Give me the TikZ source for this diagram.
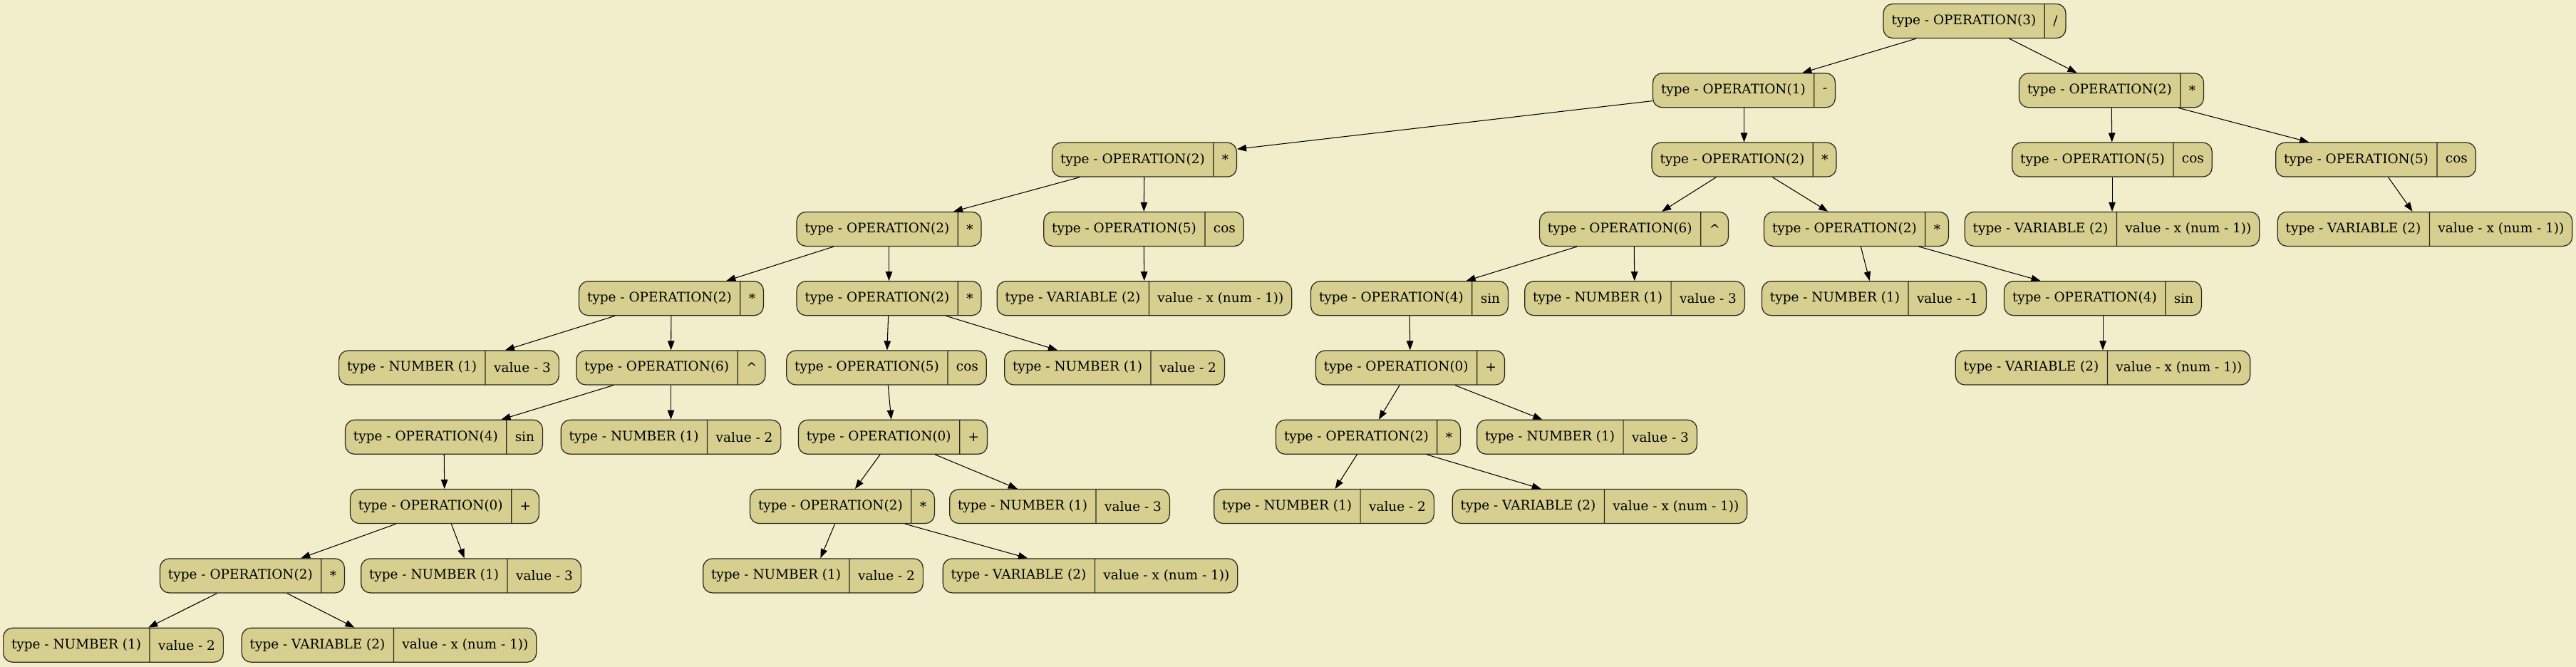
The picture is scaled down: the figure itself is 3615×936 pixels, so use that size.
\documentclass[tikz,border=0pt]{standalone}
\usepackage{fontspec}
\setmainfont{DejaVu Serif}
\usetikzlibrary{arrows.meta,shapes.multipart}
\definecolor{bgcol}{RGB}{242,238,203}
\definecolor{reccol}{RGB}{214,207,143}
\definecolor{recline}{RGB}{40,40,30}
\begin{document}
\begin{tikzpicture}[->,>={Triangle[length=7.4pt,width=5.4pt]},x=0.02cm,y=-0.02cm,
		semithick]
		\tikzstyle{record}=[rectangle split,rectangle split horizontal,rectangle split parts=2,
		draw=recline,fill=reccol,rounded corners=0.26cm,line width=0.7pt,text=black,
		inner xsep=6.5pt,inner ysep=0pt,minimum height=0.96cm,
		font=\fontsize{10.5}{12}\selectfont]
		
		\fill[bgcol] (0,0) rectangle (3615,936);
		\useasboundingbox (0,0) rectangle (3615,936);
		
		% level 0 - 2
		\node[record] (root) at (2771,29.5)    {type - OPERATION(3)\nodepart{two}/};
		\node[record] (A)    at (2447.5,126.8) {type - OPERATION(1)\nodepart{two}-};
		\node[record] (B)    at (2963,126.8)   {type - OPERATION(2)\nodepart{two}*};
		\node[record] (C)    at (1606,224.1)   {type - OPERATION(2)\nodepart{two}*};
		\node[record] (D)    at (2447.5,224.1) {type - OPERATION(2)\nodepart{two}*};
		\node[record] (E)    at (2964,224.1)   {type - OPERATION(5)\nodepart{two}cos};
		\node[record] (F)    at (3334,224.1)   {type - OPERATION(5)\nodepart{two}cos};
		
		% level 3 - 4
		\node[record] (G)    at (1247.5,321.4) {type - OPERATION(2)\nodepart{two}*};
		\node[record] (H)    at (1605,321.4)   {type - OPERATION(5)\nodepart{two}cos};
		\node[record] (I)    at (2293,321.4)   {type - OPERATION(6)\nodepart{two}\textasciicircum};
		\node[record] (J)    at (2605,321.4)   {type - OPERATION(2)\nodepart{two}*};
		\node[record] (K)    at (2964,321.4)   {type - VARIABLE (2)\nodepart{two}value - x (num - 1))};
		\node[record] (L)    at (3403,321.4)   {type - VARIABLE (2)\nodepart{two}value - x (num - 1))};
		\node[record] (M)    at (942,418.7)    {type - OPERATION(2)\nodepart{two}*};
		\node[record] (N)    at (1247.5,418.7) {type - OPERATION(2)\nodepart{two}*};
		\node[record] (O)    at (1606,418.7)   {type - VARIABLE (2)\nodepart{two}value - x (num - 1))};
		\node[record] (P)    at (1978,418.7)   {type - OPERATION(4)\nodepart{two}sin};
		\node[record] (Q)    at (2294,418.7)   {type - NUMBER (1)\nodepart{two}value - 3};
		\node[record] (R)    at (2630,418.7)   {type - NUMBER (1)\nodepart{two}value - -1};
		\node[record] (S)    at (2951,418.7)   {type - OPERATION(4)\nodepart{two}sin};
		
		% level 5 - 6
		\node[record] (T)    at (630,516)      {type - NUMBER (1)\nodepart{two}value - 3};
		\node[record] (U)    at (941.5,516)    {type - OPERATION(6)\nodepart{two}\textasciicircum};
		\node[record] (V)    at (1244,516)     {type - OPERATION(5)\nodepart{two}cos};
		\node[record] (W)    at (1564,516)     {type - NUMBER (1)\nodepart{two}value - 2};
		\node[record] (X)    at (1979,516)     {type - OPERATION(0)\nodepart{two}+};
		\node[record] (Y)    at (2951,516)     {type - VARIABLE (2)\nodepart{two}value - x (num - 1))};
		\node[record] (Z)    at (623,613.3)    {type - OPERATION(4)\nodepart{two}sin};
		\node[record] (AA)   at (941.5,613.3)  {type - NUMBER (1)\nodepart{two}value - 2};
		\node[record] (AB)   at (1253,613.3)   {type - OPERATION(0)\nodepart{two}+};
		\node[record] (AC)   at (1920,613.3)   {type - OPERATION(2)\nodepart{two}*};
		\node[record] (AD)   at (2227,613.3)   {type - NUMBER (1)\nodepart{two}value - 3};
		
		% level 7 - 9
		\node[record] (AE)   at (624,710.6)    {type - OPERATION(0)\nodepart{two}+};
		\node[record] (AF)   at (1182,710.6)   {type - OPERATION(2)\nodepart{two}*};
		\node[record] (AG)   at (1487,710.6)   {type - NUMBER (1)\nodepart{two}value - 3};
		\node[record] (AH)   at (1858,710.6)   {type - NUMBER (1)\nodepart{two}value - 2};
		\node[record] (AI)   at (2245,710.6)   {type - VARIABLE (2)\nodepart{two}value - x (num - 1))};
		\node[record] (AJ)   at (354,807.9)    {type - OPERATION(2)\nodepart{two}*};
		\node[record] (AK)   at (661,807.9)    {type - NUMBER (1)\nodepart{two}value - 3};
		\node[record] (AL)   at (1141,807.9)   {type - NUMBER (1)\nodepart{two}value - 2};
		\node[record] (AM)   at (1530,807.9)   {type - VARIABLE (2)\nodepart{two}value - x (num - 1))};
		\node[record] (AN)   at (159,905.2)    {type - NUMBER (1)\nodepart{two}value - 2};
		\node[record] (AO)   at (546,905.2)    {type - VARIABLE (2)\nodepart{two}value - x (num - 1))};
		
		\path (root) edge (A) edge (B);
		\path (A) edge (C) edge (D);
		\path (B) edge (E) edge (F);
		\path (C) edge (G) edge (H);
		\path (D) edge (I) edge (J);
		\path (E) edge (K);
		\path (F) edge (L);
		\path (G) edge (M) edge (N);
		\path (H) edge (O);
		\path (I) edge (P) edge (Q);
		\path (J) edge (R) edge (S);
		\path (M) edge (T) edge (U);
		\path (N) edge (V) edge (W);
		\path (P) edge (X);
		\path (S) edge (Y);
		\path (U) edge (Z) edge (AA);
		\path (V) edge (AB);
		\path (X) edge (AC) edge (AD);
		\path (Z) edge (AE);
		\path (AB) edge (AF) edge (AG);
		\path (AC) edge (AH) edge (AI);
		\path (AE) edge (AJ) edge (AK);
		\path (AF) edge (AL) edge (AM);
		\path (AJ) edge (AN) edge (AO);
		\end{tikzpicture}
\end{document}
